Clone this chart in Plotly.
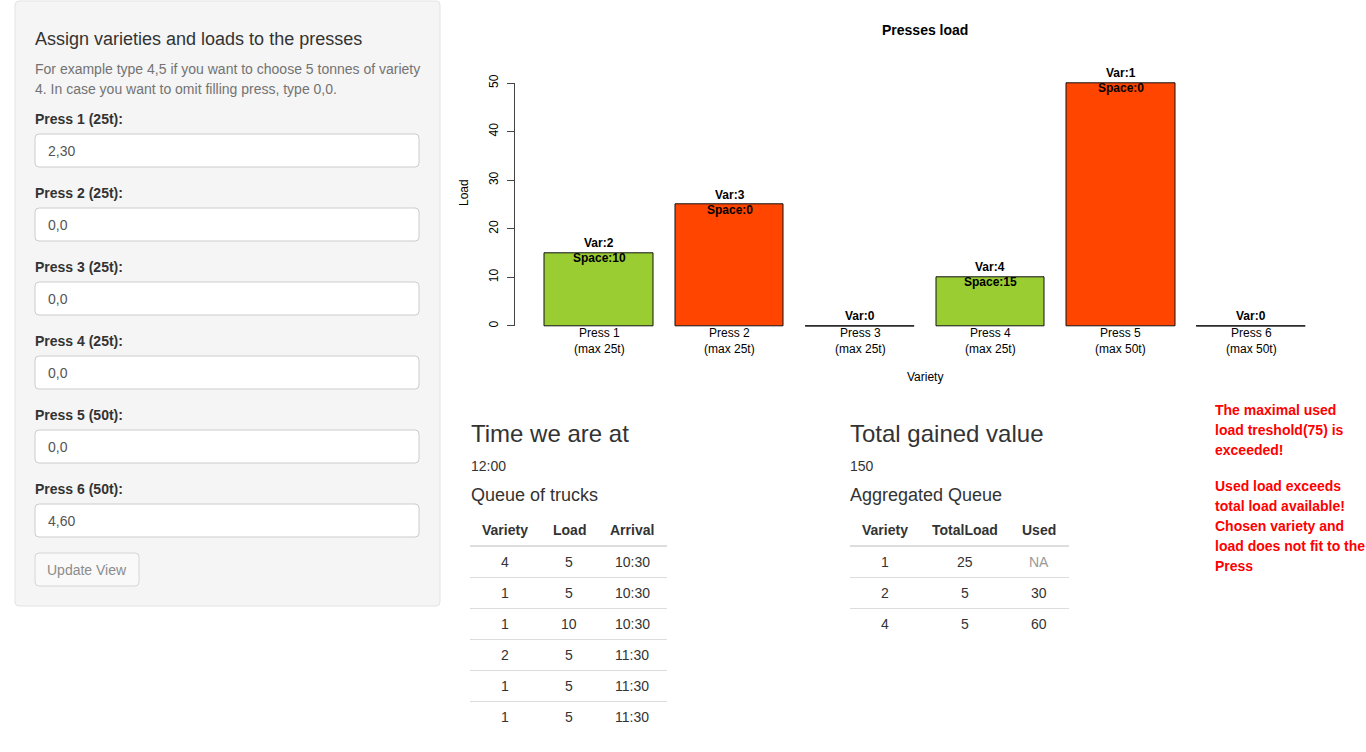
import plotly.graph_objects as go

# ---------------- data ----------------
press_names = ["Press 1", "Press 2", "Press 3", "Press 4", "Press 5", "Press 6"]
press_max = ["25t", "25t", "25t", "25t", "50t", "50t"]
press_load = [15, 25, 0, 10, 50, 0]
press_variety = [2, 3, 0, 4, 1, 0]
press_space = [10, 0, None, 15, 0, None]
bar_colors = ["#9ACD32", "#FF4500", "#9ACD32", "#9ACD32", "#FF4500", "#9ACD32"]
y_ticks = [0, 10, 20, 30, 40, 50]

input_labels = ["Press 1 (25t):", "Press 2 (25t):", "Press 3 (25t):",
                "Press 4 (25t):", "Press 5 (50t):", "Press 6 (50t):"]
input_values = ["2,30", "0,0", "0,0", "0,0", "0,0", "4,60"]

queue_variety = [4, 1, 1, 2, 1, 1]
queue_load = [5, 5, 10, 5, 5, 5]
queue_arrival = ["10:30", "10:30", "10:30", "11:30", "11:30", "11:30"]

agg_variety = [1, 2, 4]
agg_total = [25, 5, 5]
agg_used = ["NA", 30, 60]

current_time = "12:00"
total_value = 150
warn_1 = ["The maximal used", "load treshold(75) is", "exceeded!"]
warn_2 = ["Used load exceeds", "total load available!", "Chosen variety and",
          "load does not fit to the", "Press"]

# ---------------- helpers ----------------
W, H = 1366, 752
FONT = "Liberation Sans, Arial, Helvetica, sans-serif"


def px(x):
    return x / W


def py(y):
    return 1 - y / H


shapes = []
annotations = []


def text(x, y, s, size=14, color="#333", bold=False, anchor="left", angle=0):
    if bold:
        s = "<b>" + s + "</b>"
    annotations.append(dict(
        x=px(x), y=py(y), xref="paper", yref="paper", text=s, showarrow=False,
        xanchor=anchor, yanchor="middle", textangle=angle,
        xshift=-2 if anchor == "left" else 0,
        font=dict(family=FONT, size=size, color=color)))


def rrect(x0, y0, x1, y1, r=4, fill="white", line="#ccc", lw=1):
    X0, X1 = px(x0), px(x1)
    Y0, Y1 = py(y0), py(y1)
    rx, ry = r / W, r / H
    path = (f"M {X0+rx},{Y0} L {X1-rx},{Y0} Q {X1},{Y0} {X1},{Y0-ry} "
            f"L {X1},{Y1+ry} Q {X1},{Y1} {X1-rx},{Y1} L {X0+rx},{Y1} "
            f"Q {X0},{Y1} {X0},{Y1+ry} L {X0},{Y0-ry} Q {X0},{Y0} {X0+rx},{Y0} Z")
    shapes.append(dict(type="path", path=path, xref="paper", yref="paper",
                       fillcolor=fill, line=dict(color=line, width=lw), layer="below"))


def hline(x0, x1, y, color="#ddd", w=1):
    shapes.append(dict(type="line", xref="paper", yref="paper",
                       x0=px(x0), x1=px(x1), y0=py(y), y1=py(y),
                       line=dict(color=color, width=w)))


# ---------------- sidebar ----------------
rrect(15, 1, 440, 606, r=4, fill="#f5f5f5", line="#e3e3e3")
text(35, 39, "Assign varieties and loads to the presses", size=18, color="#333")
text(35, 69, "For example type 4,5 if you want to choose 5 tonnes of variety", size=14, color="#737373")
text(35, 89, "4. In case you want to omit filling press, type 0,0.", size=14, color="#737373")
for i, (lab, val) in enumerate(zip(input_labels, input_values)):
    base = 119 + 74 * i
    text(35, base, lab, size=14, color="#333", bold=True)
    rrect(35, base + 15, 419, base + 48, r=4, fill="white", line="#cccccc")
    text(48, base + 32, val, size=14, color="#555")
rrect(35, 553, 139, 586, r=4, fill="#f9f9f9", line="#d6d6d6")
text(87, 570, "Update View", size=14, color="#8c8c8c", anchor="center")

# ---------------- bar chart ----------------
centers = [0.7 + 1.2 * i for i in range(len(press_load))]

fig = go.Figure()
fig.add_trace(go.Bar(
    x=centers, y=press_load, width=1,
    marker=dict(color=bar_colors, line=dict(color="#111", width=1)),
    hoverinfo="skip", showlegend=False))

# zero-height bars are drawn as flat lines (as in R barplot)
for c, v in zip(centers, press_load):
    if v == 0:
        shapes.append(dict(type="line", xref="x", yref="y", x0=c - 0.5, x1=c + 0.5,
                           y0=0, y1=0, line=dict(color="#333", width=1)))

# y axis line from 0 to 50
shapes.append(dict(type="line", xref="x domain", yref="y", x0=0, x1=0,
                   y0=y_ticks[0], y1=y_ticks[-1], line=dict(color="#444", width=1)))

for c, v, var, sp in zip(centers, press_load, press_variety, press_space):
    annotations.append(dict(x=c, y=v, xref="x", yref="y", text=f"<b>Var:{var}</b>",
                            showarrow=False, yshift=10, yanchor="middle",
                            font=dict(family=FONT, size=12, color="#000")))
    if sp is not None:
        annotations.append(dict(x=c, y=v, xref="x", yref="y", text=f"<b>Space:{sp}</b>",
                                showarrow=False, yshift=-5, yanchor="middle",
                                font=dict(family=FONT, size=12, color="#000")))

for c, name, mx in zip(centers, press_names, press_max):
    annotations.append(dict(x=c, y=py(341), xref="x", yref="paper",
                            text=f"{name}<br>(max {mx})", showarrow=False,
                            yanchor="middle",
                            font=dict(family=FONT, size=12, color="#000")))

text(925, 30, "Presses load", size=14, color="#000", bold=True, anchor="center")
text(925, 377, "Variety", size=12, color="#000", anchor="center")
text(464, 193, "Load", size=12, color="#000", anchor="center", angle=-90)

# ---------------- lower text & tables ----------------
text(471, 433, "Time we are at", size=24, color="#333")
text(471, 466, current_time, size=14, color="#333")
text(471, 495, "Queue of trucks", size=18, color="#333")

text(850, 433, "Total gained value", size=24, color="#333")
text(850, 466, str(total_value), size=14, color="#333")
text(850, 495, "Aggregated Queue", size=18, color="#333")

# queue table
q_cols = [505, 569, 632]
for xc, h in zip(q_cols, ["Variety", "Load", "Arrival"]):
    text(xc, 530, h, size=14, color="#333", bold=True, anchor="center")
hline(470, 667, 546, color="#dddddd", w=2)
for r, (v, l, a) in enumerate(zip(queue_variety, queue_load, queue_arrival)):
    yc = 562 + 31 * r
    if r > 0:
        hline(470, 667, yc - 15.5)
    for xc, s in zip(q_cols, [v, l, a]):
        text(xc, yc, str(s), size=14, color="#333", anchor="center")

# aggregated table
a_cols = [885, 965, 1039]
for xc, h in zip(a_cols, ["Variety", "TotalLoad", "Used"]):
    text(xc, 530, h, size=14, color="#333", bold=True, anchor="center")
hline(850, 1069, 546, color="#dddddd", w=2)
for r, (v, t, u) in enumerate(zip(agg_variety, agg_total, agg_used)):
    yc = 562 + 31 * r
    if r > 0:
        hline(850, 1069, yc - 15.5)
    for xc, s in zip(a_cols, [v, t, u]):
        col = "#999" if s == "NA" else "#333"
        text(xc, yc, str(s), size=14, color=col, anchor="center")

# warnings
for i, s in enumerate(warn_1):
    text(1215, 410 + 20 * i, s, size=14, color="#ff0000", bold=True)
for i, s in enumerate(warn_2):
    text(1215, 486 + 20 * i, s, size=14, color="#ff0000", bold=True)

# ---------------- layout ----------------
fig.update_layout(
    width=W, height=H, autosize=False,
    margin=dict(l=0, r=0, t=0, b=0, pad=0),
    paper_bgcolor="white", plot_bgcolor="rgba(0,0,0,0)",
    font=dict(family=FONT, size=12, color="#000"),
    shapes=shapes, annotations=annotations,
    bargap=0,
    xaxis=dict(range=[-0.08, 7.48], domain=[px(514.5), px(1336)],
               showticklabels=False, showgrid=False, zeroline=False,
               showline=False, ticks="", fixedrange=True),
    yaxis=dict(range=[-2, 52], domain=[py(335.7), py(73.3)],
               tickvals=y_ticks, ticktext=[str(t) for t in y_ticks],
               ticks="outside", ticklen=7, tickcolor="#444", tickwidth=1,
               tickangle=-90, tickfont=dict(family=FONT, size=12, color="#000"),
               ticklabelstandoff=4,
               showgrid=False, zeroline=False, showline=False, fixedrange=True),
)

fig.write_html("out.html", config={"displayModeBar": False},
               post_script="document.body.style.margin='0';document.body.style.overflow='hidden';")
